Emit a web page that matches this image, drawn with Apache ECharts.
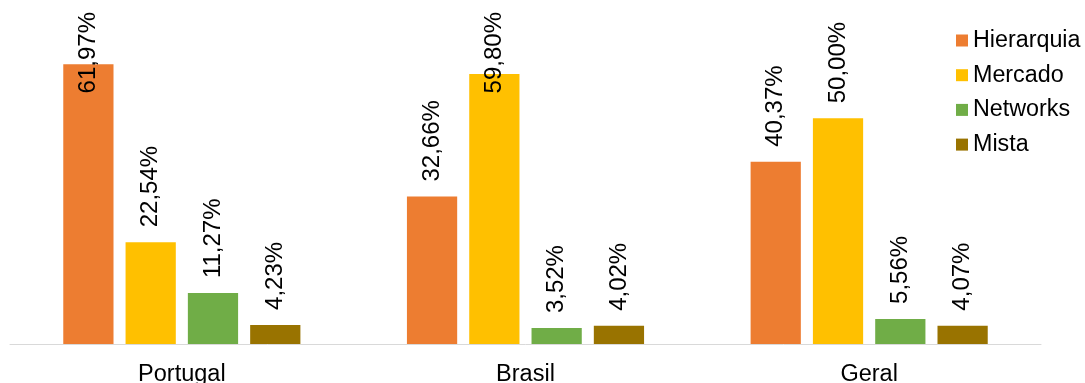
<!DOCTYPE html>
<html>
<head>
<meta charset="utf-8">
<script src="https://cdn.jsdelivr.net/npm/echarts@6/dist/echarts.min.js"></script>
<style>
html,body{margin:0;padding:0;background:#fff;}
#chart{width:1085px;height:383px;}
</style>
</head>
<body>
<div id="chart"></div>
<script>
var categories = ['Portugal', 'Brasil', 'Geral'];
var seriesNames = ['Hierarquia', 'Mercado', 'Networks', 'Mista'];
var hierarquia = [61.97, 32.66, 40.37];
var mercado = [22.54, 59.80, 50.00];
var networks = [11.27, 3.52, 5.56];
var mista = [4.23, 4.02, 4.07];
var colors = ['#ED7D31', '#FFC000', '#70AD47', '#997300'];

var FONT = '"Liberation Sans", Arial, sans-serif';
var valuesList = [hierarquia, mercado, networks, mista];

var chart = echarts.init(document.getElementById('chart'), null, {renderer: 'canvas'});

var series = seriesNames.map(function (name, i) {
  return {
    name: name,
    type: 'bar',
    data: valuesList[i],
    barGap: '24%',
    barCategoryGap: '31%',
    itemStyle: {color: colors[i]},
    label: {
      show: true,
      position: 'top',
      rotate: 90,
      align: 'left',
      verticalAlign: 'middle',
      distance: 15,
      fontFamily: FONT,
      fontSize: 24,
      color: '#000',
      formatter: function (p) {
        return p.value.toFixed(2).replace('.', ',') + '%';
      }
    },
    labelLayout: function (p) {
      var r = p.labelRect;
      if (r.y < 12) {
        return {y: 12 + r.height};
      }
      return {};
    }
  };
});

chart.setOption({
  animation: false,
  backgroundColor: '#fff',
  color: colors,
  grid: {left: 10, right: 44, top: 28, bottom: 39, containLabel: false, outerBoundsMode: 'none'},
  legend: {
    orient: 'vertical',
    left: 951,
    top: 24,
    itemWidth: 12,
    itemHeight: 12,
    itemGap: 11.7,
    icon: 'rect',
    textStyle: {fontFamily: FONT, fontSize: 23.3, color: '#000', lineHeight: 23},
    data: seriesNames
  },
  xAxis: {
    type: 'category',
    data: categories,
    axisLine: {show: true, lineStyle: {color: '#d9d9d9', width: 1}},
    axisTick: {show: false},
    axisLabel: {fontFamily: FONT, fontSize: 23.5, color: '#000', margin: 19}
  },
  yAxis: {
    type: 'value',
    min: 0,
    max: 70,
    show: false,
    splitLine: {show: false}
  },
  series: series
});
</script>
</body>
</html>
